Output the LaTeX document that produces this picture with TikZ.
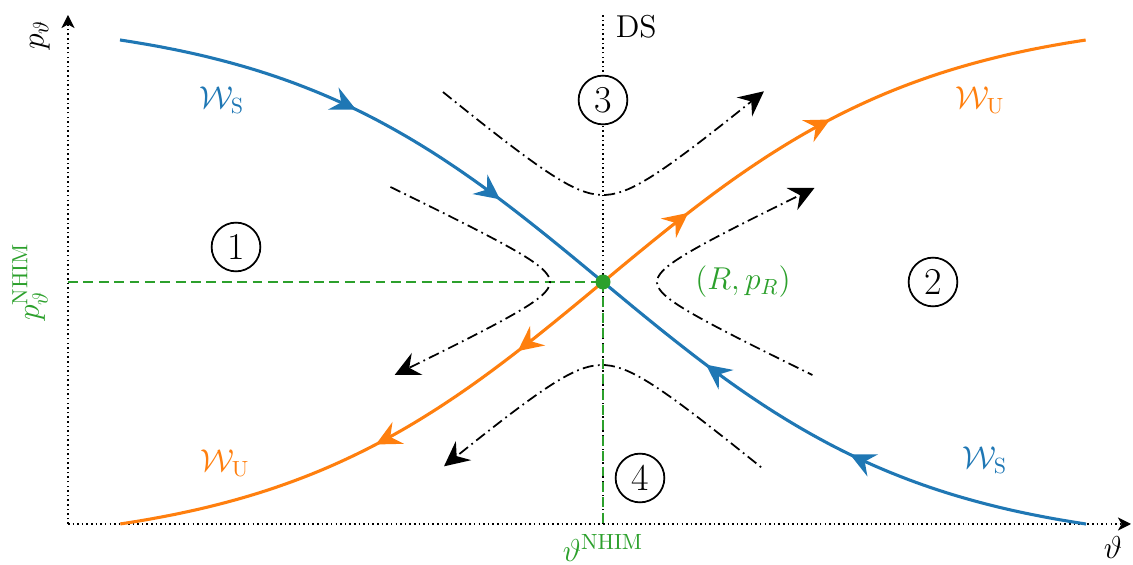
\documentclass[tikz,border=0pt]{standalone}
\usepackage{amsmath,amssymb}
\usetikzlibrary{arrows.meta,positioning,decorations.markings}
\definecolor{tabblue}{RGB}{31,119,180}
\definecolor{taborange}{RGB}{255,127,14}
\definecolor{tabgreen}{RGB}{44,160,44}
\begin{document}
\begin{tikzpicture}[x=1.6cm,y=-1.6cm,
          >={Stealth[length=4mm,width=3.9mm,inset=1.4mm]},
          dots/.style={line width=0.7pt,dash pattern=on 0.7pt off 1.4pt},
          axis/.style={dots,-{Stealth[length=2.1mm,width=2.1mm,inset=0.6mm]}},
          mani/.style 2 args={line width=1.4pt,postaction={decorate},
            decoration={markings,
              mark=at position #1 with {\arrow{>}},
              mark=at position #2 with {\arrow{>}}}},
          flow/.style={thick,dash pattern=on 5pt off 2pt on 0.8pt off 2pt},
          nhim/.style={tabgreen,line width=1pt,dash pattern=on 4.5pt off 2.5pt},
          num/.style={circle,draw,thick,fill=white,minimum size=7.8mm,inner sep=0pt,font=\LARGE},
          lab/.style={font=\Large}]
        \useasboundingbox (0,0) rectangle (11.33,5.65);
        \coordinate (O) at (0.68,5.24);
        \coordinate (xend) at (11.31,5.24);
        \coordinate (yend) at (0.68,0.15);
        \coordinate (top) at (6.03,0.15);
        \draw[axis] (O) -- (xend);
        \draw[axis] (O) -- (yend);
        \node[circle,inner sep=0pt,minimum size=2.4mm] (R) at (6.03,2.82) {};
        \draw[dots] (R |- O) -- (top);
        \draw[nhim] (O |- R) -- (R.center);
        \draw[nhim] (R.center) -- (R |- O);
        % stable and unstable manifolds
        \draw[tabblue,mani={0.45}{0.76}] plot[domain=-1:0,samples=80]
          ({6.03+4.83*\x},{2.82+2.6736*tanh(1.5*\x)});
        \draw[tabblue,mani={0.45}{0.76}] plot[domain=0:1,samples=80]
          ({6.03+4.83*(1-\x)},{2.82+2.6736*tanh(1.5*(1-\x))});
        \draw[taborange,mani={0.2}{0.51}] plot[domain=0:1,samples=80]
          ({6.03-4.83*\x},{2.82+2.6736*tanh(1.5*\x)});
        \draw[taborange,mani={0.2}{0.51}] plot[domain=0:1,samples=80]
          ({6.03+4.83*\x},{2.82-2.6736*tanh(1.5*\x)});
        \fill[tabgreen] (R) circle (1.2mm);
        % trajectories
        \draw[flow,->] plot[domain=-1.6:1.61,samples=60]
          ({6.03+\x},{2.30-sqrt(0.1225+(0.834*\x)^2)});
        \draw[flow,<-] plot[domain=-1.58:1.6,samples=60]
          ({6.02+\x},{3.30+sqrt(0.1225+(0.834*\x)^2)});
        \draw[flow,->] plot[domain=-0.95:0.93,samples=60]
          ({5.95-sqrt(0.2025+(2.1*\x)^2)},{2.82+\x});
        \draw[flow,<-] plot[domain=-0.94:0.93,samples=60]
          ({6.12+sqrt(0.2025+(2.1*\x)^2)},{2.82+\x});
        \node[num] (n1) at (2.36,2.47) {1};
        \node[num] (n2) at (9.33,2.82) {2};
        \node[num] (n3) at (6.03,1.00) {3};
        \node[num] (n4) at (6.40,4.78) {4};
        \node[lab,text=tabblue] (ws1) at (2.22,1.00) {$\mathcal{W}_{\mathrm{S}}$};
        \node[lab,text=tabblue] (ws2) at (9.85,4.60) {$\mathcal{W}_{\mathrm{S}}$};
        \node[lab,text=taborange] (wu1) at (9.80,1.00) {$\mathcal{W}_{\mathrm{U}}$};
        \node[lab,text=taborange] (wu2) at (2.25,4.63) {$\mathcal{W}_{\mathrm{U}}$};
        \node[lab,text=tabgreen] (RpR) at (7.43,2.82) {$(R,p_R)$};
        \node[lab,anchor=west] (DS) at (6.08,0.27) {DS};
        \node[lab,rotate=90] (py) at (0.40,0.35) {$p_\vartheta$};
        \node[lab,rotate=90,text=tabgreen] (pn) at (0.30,2.82) {$p_\vartheta^{\mathrm{NHIM}}$};
        \node[lab,text=tabgreen,below=0.5mm of R |- O] (tn) {$\vartheta^{\mathrm{NHIM}}$};
        \node[lab] (th) at (11.13,5.48) {$\vartheta$};
      \end{tikzpicture}
\end{document}
